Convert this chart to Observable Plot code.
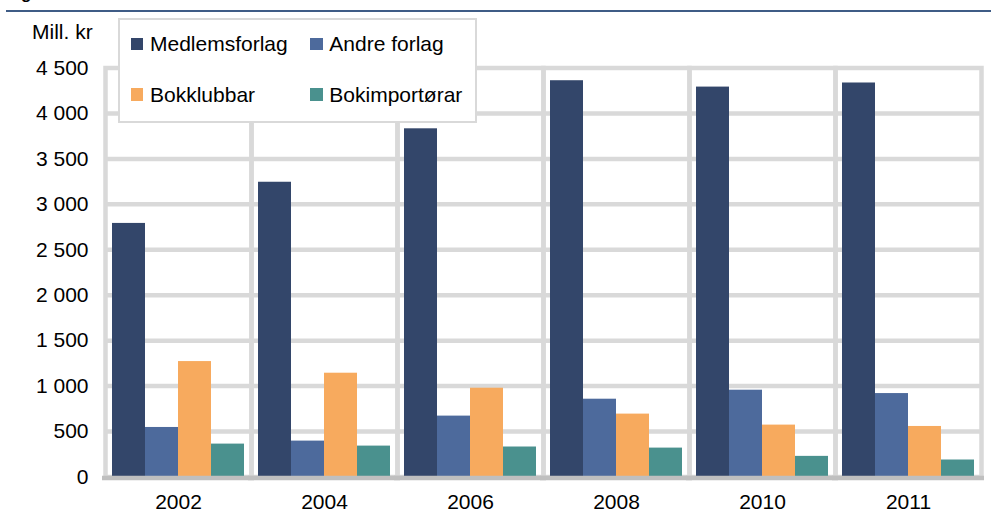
<!DOCTYPE html>
<html>
<head>
<meta charset="utf-8">
<script src="https://cdn.jsdelivr.net/npm/d3@7"></script>
<script src="https://cdn.jsdelivr.net/npm/@observablehq/plot@0.6"></script>
<style>
  body { margin: 0; background: #fff; }
  #wrap { position: relative; width: 991px; height: 515px; overflow: hidden; font-family: "Liberation Sans", Arial, sans-serif; }
  #wrap svg { position: absolute; left: 0; top: 0; }
  .title { position: absolute; left: 6px; top: -16px; font-size: 17px; font-weight: bold; white-space: nowrap; }
  .topline { position: absolute; left: 6px; right: 0; top: 9.5px; height: 2.5px; background: #3f5c86; }
  .unit { position: absolute; left: 32px; top: 19.5px; font-size: 21px; color: #000; }
  .legend { position: absolute; left: 118px; top: 18px; width: 355px; height: 101px; background: #fff; border: 2px solid #d9d9d9; }
  .item { position: absolute; font-size: 21px; color: #000; white-space: nowrap; line-height: 21px; }
  .sw { position: absolute; width: 12.5px; height: 12.5px; }
</style>
</head>
<body>
<div id="wrap"></div>
<script>
const years = ["2002", "2004", "2006", "2008", "2010", "2011"];
const series = ["Medlemsforlag", "Andre forlag", "Bokklubbar", "Bokimportørar"];
const colors = ["#33466a", "#4d6a9c", "#f7aa5e", "#4a918e"];
const medlemsforlag = [2790, 3243, 3831, 4360, 4290, 4335];
const andreForlag = [545, 395, 670, 856, 955, 918];
const bokklubbar = [1270, 1142, 977, 692, 571, 556];
const bokimportorar = [362, 340, 330, 318, 227, 187];
const yTicks = [0, 500, 1000, 1500, 2000, 2500, 3000, 3500, 4000, 4500];
const gridTicks = [500, 1000, 1500, 2000, 2500, 3000, 3500, 4000];
const unitLabel = "Mill. kr";
const titleText = "Figur";

const valuesBySeries = [medlemsforlag, andreForlag, bokklubbar, bokimportorar];
const data = [];
years.forEach((yr, i) => series.forEach((s, j) => data.push({year: yr, series: s, value: valuesBySeries[j][i]})));

const nb = d3.formatLocale({decimal: ",", thousands: " ", grouping: [3], currency: ["", ""]}).format(",d");

const chart = Plot.plot({
  width: 991,
  height: 515,
  marginLeft: 103,
  marginRight: 9,
  marginTop: 67.5,
  marginBottom: 38.5,
  style: {fontFamily: "'Liberation Sans', Arial, sans-serif", fontSize: "21px", color: "#000", background: "transparent"},
  fx: {domain: years, padding: 0, axis: "bottom", tickSize: 0, tickPadding: 17.5, label: null},
  x: {domain: series, paddingInner: 0, paddingOuter: 0.212, axis: null},
  y: {domain: [0, 4500], ticks: yTicks, tickFormat: nb, tickSize: 0, tickPadding: 17, label: null},
  color: {domain: series, range: colors},
  marks: [
    Plot.frame({stroke: "#d9d9d9", strokeWidth: 4.5}),
    Plot.ruleY(gridTicks, {stroke: "#d9d9d9", strokeWidth: 4.5}),
    Plot.barY(data, {fx: "year", x: "series", y: "value", fill: "series"}),
    Plot.ruleY([0], {stroke: "#bfbfbf", strokeWidth: 4.5, dy: 1, insetLeft: -3, insetRight: -3})
  ]
});

const wrap = document.getElementById("wrap");
wrap.appendChild(chart);

const t = document.createElement("div"); t.className = "title"; t.textContent = titleText; wrap.appendChild(t);
const line = document.createElement("div"); line.className = "topline"; wrap.appendChild(line);
const u = document.createElement("div"); u.className = "unit"; u.textContent = unitLabel; wrap.appendChild(u);

const leg = document.createElement("div"); leg.className = "legend"; wrap.appendChild(leg);
const pos = [[10.7, 17.7], [190, 17.7], [10.7, 68.3], [190, 68.3]];
series.forEach((s, i) => {
  const sw = document.createElement("div"); sw.className = "sw";
  sw.style.background = colors[i];
  sw.style.left = pos[i][0] + "px"; sw.style.top = pos[i][1] + "px";
  leg.appendChild(sw);
  const it = document.createElement("div"); it.className = "item"; it.textContent = s;
  it.style.left = (pos[i][0] + 19.3) + "px"; it.style.top = (pos[i][1] - 4.5) + "px";
  leg.appendChild(it);
});
</script>
</body>
</html>
